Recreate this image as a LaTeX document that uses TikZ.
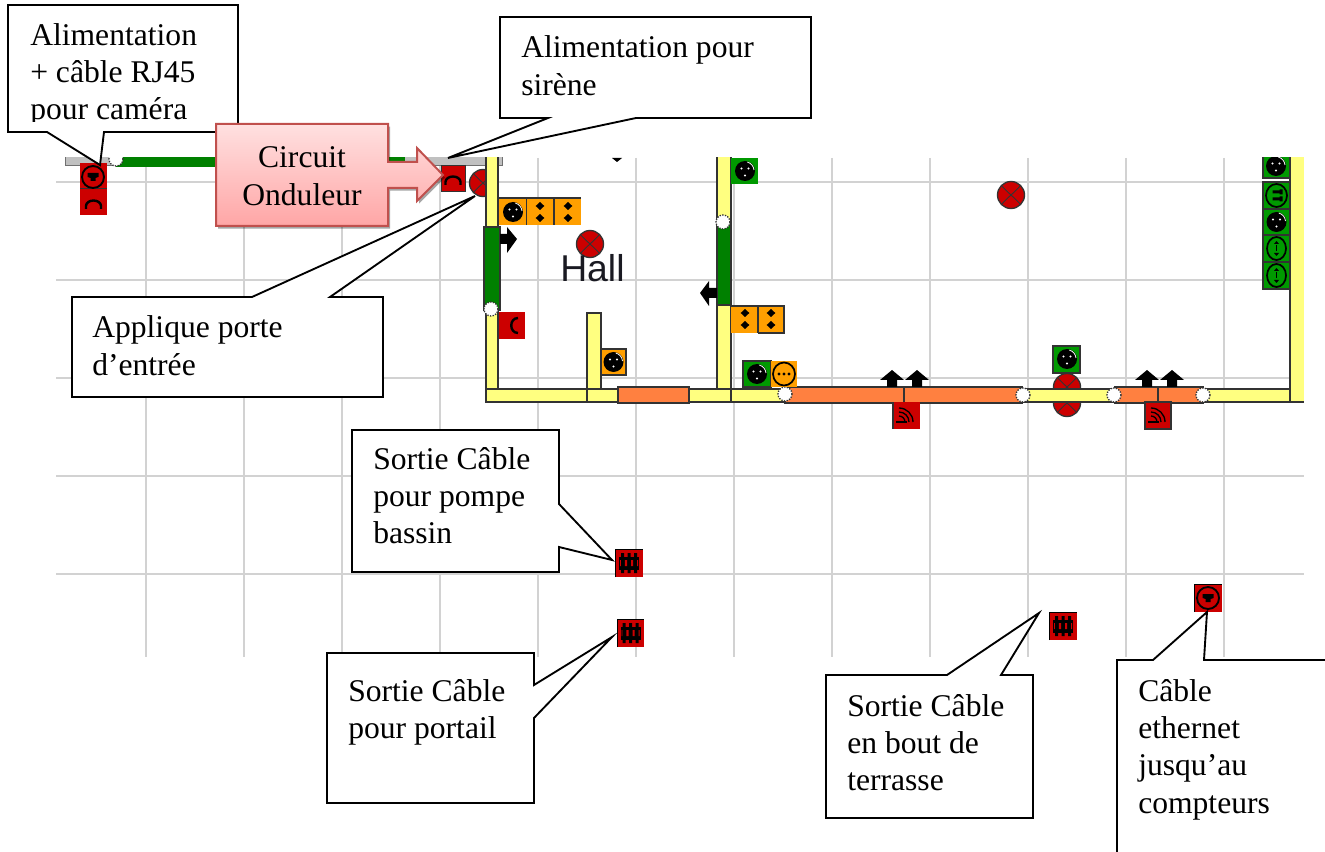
\documentclass[tikz,border=0pt]{standalone}
\usepackage{fontspec}
\setmainfont{Liberation Serif}
\newfontfamily\hallfont{Liberation Sans}
\usetikzlibrary{shadows}
\definecolor{rd}{HTML}{CC0000}
\definecolor{gn}{HTML}{008000}
\definecolor{gb}{HTML}{009900}
\definecolor{og}{HTML}{FF9F00}
\definecolor{yl}{HTML}{FFFF80}
\definecolor{ow}{HTML}{FF8040}
\definecolor{gr}{HTML}{C0C0C0}
\definecolor{gl}{HTML}{D2D2D2}
\definecolor{pl}{HTML}{333333}
\definecolor{cb}{HTML}{C0504D}
\definecolor{hl}{HTML}{1A1A22}
\newcommand\tb[1]{\begin{tabular}[t]{@{}l@{}}#1\end{tabular}}
\newcommand\tc[1]{\begin{tabular}[t]{@{}c@{}}#1\end{tabular}}
\tikzset{
 x=0.75pt,y=-0.75pt,
 gridline/.style={gl,line width=1.5pt},
 plan/.style={draw=pl,line width=1pt},
 callout/.style={draw=black,fill=white,line width=1.4pt,line join=miter},
 lbl/.style={anchor=base west,inner sep=0pt,font=\fontsize{23.7}{27.9}\selectfont},
 plugicon/.pic={
  \fill[black] (0,0) circle (10);
  \fill[white] (-3.5,-2.5) circle (1.2) (3.5,-2.5) circle (1.2) (0,4.5) circle (1.2);
  \draw[white,line width=0.6pt] (9,-1) arc (-5:-75:9);
 },
 ddicon/.pic={
  \fill[black] (0,-10) -- (4.3,-6) -- (0,-2) -- (-4.3,-6) -- cycle;
  \fill[black] (0,2) -- (4.3,6) -- (0,10) -- (-4.3,6) -- cycle;
 },
 rjicon/.pic={
  \draw[black,line width=1.4pt] (0,0) circle (11);
  \fill[black] (-5.5,-4) -- (5.5,-4) -- (5.5,0) -- (2.5,1) -- (2.5,4) -- (-2.5,4) -- (-2.5,1) -- (-5.5,0) -- cycle;
 },
 ringicon/.pic={
  \draw[black,line width=1.3pt] (0,0) ellipse (11 and 11.5);
  \fill[black] (-5,0) circle (1.6) (0,0) circle (1.6) (5,0) circle (1.6);
 },
 ringvicon/.pic={
  \draw[black,line width=1.3pt] (0,0) ellipse (9.5 and 11.5);
  \fill[black] (0,-7.5) -- (2.5,-4.5) -- (-2.5,-4.5) -- cycle (0,7.5) -- (2.5,4.5) -- (-2.5,4.5) -- cycle;
  \draw[black,line width=0.5pt] (0,-3) -- (0,3);
 },
 ringhicon/.pic={
  \draw[black,line width=1.3pt] (0,0) ellipse (10.5 and 11.5);
  \fill[black] (-4,-5) rectangle (3,-2) (-4,2) rectangle (3,5) (3,-6) rectangle (6,-1) (3,1) rectangle (6,6);
 },
 archicon/.pic={
  \draw[black,line width=1.8pt] (-7.5,6) -- (-7.5,3) arc (180:360:7.5 and 5.5) -- (7.5,6);
 },
 fenceicon/.pic={
  \fill[black] (-10,-6.5) rectangle (10,6.5);
  \fill[black] (-8,-10) rectangle (-5,10) (-1.5,-10) rectangle (1.5,10) (5,-10) rectangle (8,10);
  \fill[rd] (-4.2,-3) rectangle (-2,3) (2,-3) rectangle (4.2,3) (-9,-3) rectangle (-8.2,3) (8.2,-3) rectangle (9,3);
 },
 wifiicon/.pic={
  \draw[black,line width=1pt] (-10,7) -- (1,7);
  \draw[black,line width=1pt] (-7,1) arc (270:360:6) (-7,-3) arc (270:360:10) (-7,-7) arc (270:360:14);
 },
 lampicon/.pic={
  \draw[pl,line width=1pt,fill=rd] (0,0) circle (13.5);
  \draw[pl,line width=0.7pt] (-9.5,-9.5) .. controls (-3,-2) and (3,2) .. (9.5,9.5) (9.5,-9.5) .. controls (3,-2) and (-3,2) .. (-9.5,9.5);
 },
}
\begin{document}
\begin{tikzpicture}
\useasboundingbox (0,0) rectangle (1325,852);
\begin{scope}
\clip (0,158) rectangle (1325,700);
% grid
\foreach \gx in {146,244,...,1224} \draw[gridline] (\gx,158) -- (\gx,657);
\foreach \gy in {182,280,378,476,574} \draw[gridline] (56,\gy) -- (1304,\gy);
% top gray wall
\fill[gr,draw=pl!70,line width=0.5pt] (65,150) rectangle (502,165);
\draw[plan,fill=gn,draw=gn] (117,150) rectangle (404,166);
\draw[plan,fill=white,dash pattern=on 1pt off 1pt] (116,159) circle (7);
% fixture top left
\fill[rd] (80,163) rectangle (107,215);
\draw[pl,line width=0.7pt] (80,188) -- (107,188);
\pic at (93,177) {rjicon};
\pic at (93.5,203) {archicon};
\draw[pl,line width=0.7pt,fill=rd] (441,165) rectangle (465,191);
\pic at (453,179) {archicon};
% lamps behind walls
\pic at (483,183) {lampicon};
\pic at (1067,387) {lampicon};
\pic at (1067,403) {lampicon};
% walls
\draw[plan,fill=yl] (486,150) rectangle (498,395);
\draw[plan,fill=gn] (484,227) rectangle (500,310);
\draw[plan,fill=yl] (587,313) rectangle (601,389);
\draw[plan,fill=yl] (717,150) rectangle (731,389);
\draw[plan,fill=gn] (717,222) rectangle (731,305);
\fill[yl] (1290,150) rectangle (1304,402);
\draw[pl,line width=1pt] (1290,150) -- (1290,402) -- (1304,402);
\draw[plan,fill=yl] (486,389) rectangle (1290,402);
\draw[pl,line width=0.8pt] (587,389) -- (587,402) (731,389) -- (731,402);
\draw[plan,fill=ow] (618,387) rectangle (689,403);
\draw[plan,fill=ow] (785,387) rectangle (1022,403);
\draw[plan,fill=ow] (1115,387) rectangle (1203,403);
\draw[pl,line width=0.8pt] (904,387) -- (904,403) (1158,387) -- (1158,403);
% white junctions
\foreach \jx/\jy in {491/309,723/222,785/394,1023/395,1114/395,1203/395}
  \draw[plan,fill=white,dash pattern=on 1pt off 1pt] (\jx,\jy) circle (7);
% black arrows
\fill[black] (500,234) -- (507,234) -- (507,227) -- (517,239) -- (507,253) -- (507,244) -- (500,244) -- cycle;
\fill[black] (717,288) -- (709,288) -- (709,281) -- (700,293) -- (709,306) -- (709,298) -- (717,298) -- cycle;
\foreach \ax in {892,917,1147,1172}
  \fill[black] (\ax-5,387) -- (\ax-5,380) -- (\ax-12,380) -- (\ax,370) -- (\ax+12,380) -- (\ax+5,380) -- (\ax+5,387) -- cycle;
\fill[black] (612,158) -- (622,158) -- (617,162) -- cycle;
% orange triple
\fill[og] (499,198) rectangle (581,225);
\draw[pl,line width=1pt] (499,198) -- (581,198) (526.5,198) -- (526.5,225) (554,198) -- (554,225);
\pic at (513,212) {plugicon};
\pic at (540,212) {ddicon};
\pic at (568,212) {ddicon};
% hall
\pic at (590,244) {lampicon};
\node[anchor=base west,inner sep=0pt,font=\hallfont\fontsize{28}{32}\selectfont,text=hl] (hall) at (560,282) {Hall};
% red C
\fill[rd] (499,312) rectangle (525,339);
\draw[black,line width=1.8pt] (518,318) .. controls (509,318) and (509,333) .. (518,333);
% partition socket
\draw[plan,fill=og] (601,349) rectangle (626,375);
\pic at (613.5,362) {plugicon};
% second wall items
\fill[gb] (731,158) rectangle (758,184);
\pic at (745,171) {plugicon};
\fill[og] (731,306) rectangle (784,333);
\draw[pl,line width=1pt] (731,306) -- (784,306) -- (784,333) -- (758,333) (758,306) -- (758,333);
\pic at (745,319) {ddicon};
\pic at (771,319) {ddicon};
\draw[plan,fill=gb] (743,361) rectangle (771,387);
\pic at (757,374) {plugicon};
\fill[og] (771,361) rectangle (797,387);
\pic at (784,374) {ringicon};
% lamp right
\pic at (1011,195) {lampicon};
\draw[plan,fill=gb] (1053,346) rectangle (1080,373);
\pic at (1067,359) {plugicon};
% green column
\draw[plan,fill=gb] (1263,150) rectangle (1290,178);
\pic at (1276,166) {plugicon};
\draw[plan,fill=gb] (1263,182) rectangle (1290,209);
\pic at (1276.5,195.5) {ringhicon};
\draw[plan,fill=gb] (1263,209) rectangle (1290,235);
\pic at (1276.5,222) {plugicon};
\draw[plan,fill=gb] (1263,235) rectangle (1290,262);
\pic at (1276.5,248.5) {ringvicon};
\draw[plan,fill=gb] (1263,262) rectangle (1290,289);
\pic at (1276.5,275.5) {ringvicon};
% wifi boxes
\fill[rd] (893,402) rectangle (920,429);
\draw[pl,line width=0.8pt] (893,402) -- (893,429);
\pic at (906,415) {wifiicon};
\draw[plan,fill=rd] (1145,402) rectangle (1171,429);
\pic at (1158,415) {wifiicon};
% cable outlets
\fill[rd] (615,549) rectangle (643,577); \draw[black,line width=.7pt] (615,577) -- (615,549) -- (643,549);
\pic at (629,563) {fenceicon};
\fill[rd] (617,619) rectangle (644,647); \draw[black,line width=.7pt] (617,647) -- (617,619) -- (644,619);
\pic at (630.5,633) {fenceicon};
\fill[rd] (1049,612) rectangle (1077,640); \draw[black,line width=.7pt] (1049,640) -- (1049,612) -- (1077,612);
\pic at (1063,626) {fenceicon};
\fill[rd] (1194,584) rectangle (1222,612); \draw[black,line width=.7pt] (1194,612) -- (1194,584) -- (1222,584);
\pic at (1208,598) {rjicon};
\end{scope}
% callouts
\draw[callout] (8,5) -- (238,5) -- (238,132) -- (104,132) -- (100,165) -- (47,132) -- (8,132) -- cycle;
\begin{scope}
\clip (8,5) rectangle (238,122);
\node[lbl] (t1) at (30,45.5) {\tb{Alimentation\\+ câble RJ45\\pour caméra}};
\end{scope}
\draw[callout] (500,17) -- (811,17) -- (811,118) -- (636,118) -- (448,158) -- (548,118) -- (500,118) -- cycle;
\node[lbl] (t2) at (521,58) {\tb{Alimentation pour\\sirène}};
\draw[callout] (72,297) -- (252,297) -- (475,196) -- (330,297) -- (383,297) -- (383,397) -- (72,397) -- cycle;
\node[lbl] (t3) at (92,338) {\tb{Applique porte\\d’entrée}};
\draw[callout] (352,430) -- (559,430) -- (559,504) -- (612,560) -- (559,547) -- (559,572) -- (352,572) -- cycle;
\node[lbl] (t4) at (373,469) {\tb{Sortie Câble\\pour pompe\\bassin}};
\draw[callout] (327,653) -- (534,653) -- (534,685) -- (612,637) -- (534,718) -- (534,803) -- (327,803) -- cycle;
\node[lbl] (t5) at (348,701) {\tb{Sortie Câble\\pour portail}};
\draw[callout] (826,675) -- (947,675) -- (1039,613) -- (1001,675) -- (1033,675) -- (1033,818) -- (826,818) -- cycle;
\node[lbl] (t6) at (847,716) {\tb{Sortie Câble\\en bout de\\terrasse}};
\draw[callout] (1325,660) -- (1204,660) -- (1207,612) -- (1153,660) -- (1117,660) -- (1117,852);
\node[lbl] (t7) at (1138,701.5) {\tb{Câble\\ethernet\\jusqu’au\\compteurs}};
% arrow callout
\path[draw=cb,line width=1.5pt,top color=red!12,bottom color=red!35!white,drop shadow={shadow xshift=1.5pt,shadow yshift=-2pt,opacity=.35,fill=black}]
 (216,124) -- (388,124) -- (388,162) -- (417,162) -- (417,148) -- (443,175) -- (417,201) -- (417,188) -- (388,188) -- (388,226) -- (216,226) -- cycle;
\node[lbl,anchor=base] (t8) at (302,168) {\tc{Circuit\\Onduleur}};
\end{tikzpicture}
\end{document}
